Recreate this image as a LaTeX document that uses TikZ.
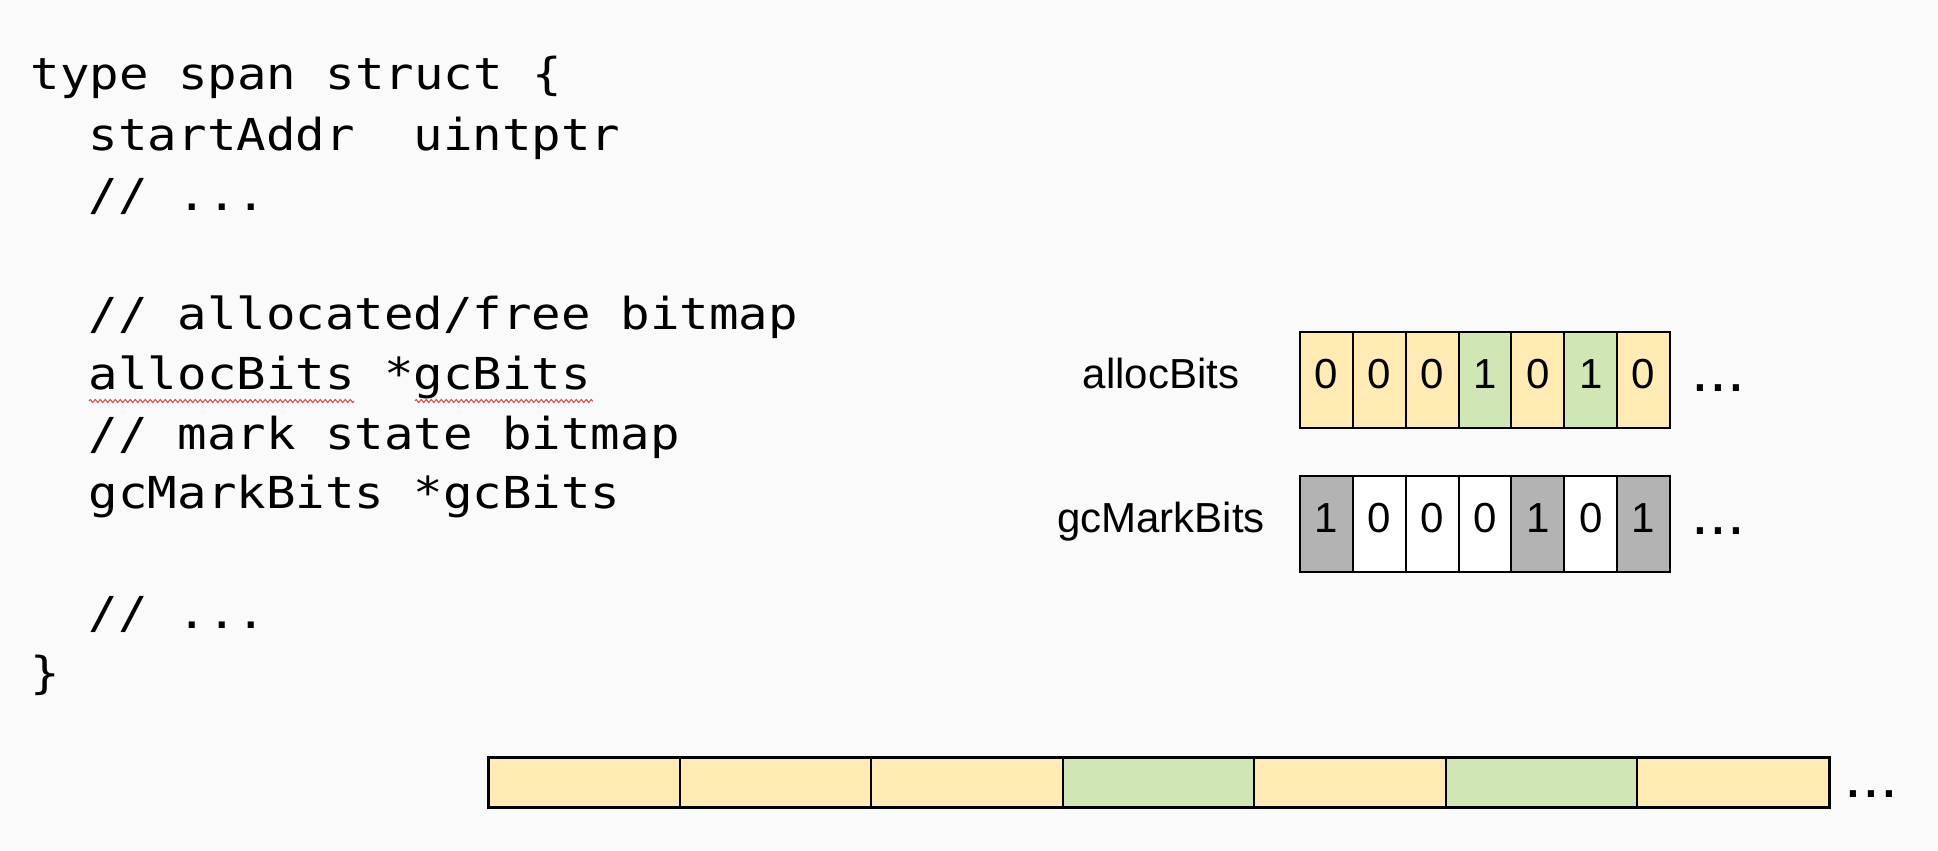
\documentclass[tikz,border=0pt]{standalone}
\usepackage{fontspec}
\setmainfont{Liberation Sans}
\newfontfamily\codefont[FakeStretch=1.115]{DejaVu Sans Mono}
\usetikzlibrary{decorations.pathmorphing}

\definecolor{bgcolor}{HTML}{FAFAFA}
\definecolor{cellyellow}{HTML}{FFEBB3}
\definecolor{cellgreen}{HTML}{D0E6B5}
\definecolor{cellgrey}{HTML}{B3B3B3}
\definecolor{spellred}{HTML}{E05050}

\tikzset{every picture/.style={line width=0.75pt}}

\begin{document}
\begin{tikzpicture}[x=0.75pt,y=0.75pt,yscale=-1,xscale=1,
  code/.style={anchor=base west, inner sep=0pt, font=\codefont\fontsize{33}{40}\selectfont},
  squiggle/.style={draw=spellred, line width=0.8pt, decorate, decoration={zigzag, segment length=3.75pt, amplitude=1.2pt}},
  bitcell/.style={draw, line width=1.5pt, minimum width=39.64pt, minimum height=72pt, inner sep=0pt, outer sep=0pt, text depth=9pt, font=\fontsize{31.5}{38}\selectfont},
  memcell/.style={draw, line width=1.5pt, fill=cellyellow, minimum width=143.68pt, minimum height=37.5pt, inner sep=0pt, outer sep=0pt},
  bitlabel/.style={anchor=base, inner sep=0pt, font=\fontsize{31.5}{38}\selectfont},
  more/.style={anchor=base west, inner sep=0pt, font=\fontsize{48}{56}\selectfont}]
%set diagram to 1938 x 850
\useasboundingbox (0,0) rectangle (1938,850);
\fill [bgcolor] (0,0) rectangle (1938,850);

% Text Node
\node [code] (structhead) at (30,89) {type span struct \{};
% Text Node
\node [code] (startaddr) at (88.4,150) {startAddr\ \ uintptr};
% Text Node
\node [code] (skipone) at (88.4,210) {// ...};
% Text Node
\node [code] (cmtalloc) at (88.4,329) {// allocated/free bitmap};
% Text Node
\node [code] (allocfield) at (88.4,389) {allocBits *gcBits};
% Text Node
\node [code] (cmtmark) at (88.4,449) {// mark state bitmap};
% Text Node
\node [code] (markfield) at (88.4,508) {gcMarkBits *gcBits};
% Text Node
\node [code] (skiptwo) at (88.4,628) {// ...};
% Text Node
\node [code] (structend) at (30,688) {\}};

%Spell check marks
\draw [squiggle] (89,401) -- (354,401);
\draw [squiggle] (415,401) -- (593,401);

%allocBits row
\node [bitlabel] (alloclabel) at (1161,388) {allocBits};
\node [bitcell, fill=cellyellow] (a1) at (1326.4,380) {0};
\node [bitcell, fill=cellyellow] (a2) at (1379.3,380) {0};
\node [bitcell, fill=cellyellow] (a3) at (1432.1,380) {0};
\node [bitcell, fill=cellgreen] (a4) at (1485.0,380) {1};
\node [bitcell, fill=cellyellow] (a5) at (1537.9,380) {0};
\node [bitcell, fill=cellgreen] (a6) at (1590.7,380) {1};
\node [bitcell, fill=cellyellow] (a7) at (1643.6,380) {0};
\node [more] (allocmore) at (1691,391) {...};

%gcMarkBits row
\node [bitlabel] (marklabel) at (1161,532) {gcMarkBits};
\node [bitcell, fill=cellgrey] (g1) at (1326.4,524) {1};
\node [bitcell, fill=white] (g2) at (1379.3,524) {0};
\node [bitcell, fill=white] (g3) at (1432.1,524) {0};
\node [bitcell, fill=white] (g4) at (1485.0,524) {0};
\node [bitcell, fill=cellgrey] (g5) at (1537.9,524) {1};
\node [bitcell, fill=white] (g6) at (1590.7,524) {0};
\node [bitcell, fill=cellgrey] (g7) at (1643.6,524) {1};
\node [more] (markmore) at (1691,534) {...};

%span memory
\node [memcell] (m1) at (583.8,782) {};
\node [memcell] (m2) at (775.4,782) {};
\node [memcell] (m3) at (966.9,782) {};
\node [memcell, fill=cellgreen] (m4) at (1158.5,782) {};
\node [memcell] (m5) at (1350.1,782) {};
\node [memcell, fill=cellgreen] (m6) at (1541.6,782) {};
\node [memcell] (m7) at (1733.2,782) {};
\draw [line width=2.25pt] (m1.north west) rectangle (m7.south east);
\node [more] (memmore) at (1844,797) {...};

\end{tikzpicture}
\end{document}
